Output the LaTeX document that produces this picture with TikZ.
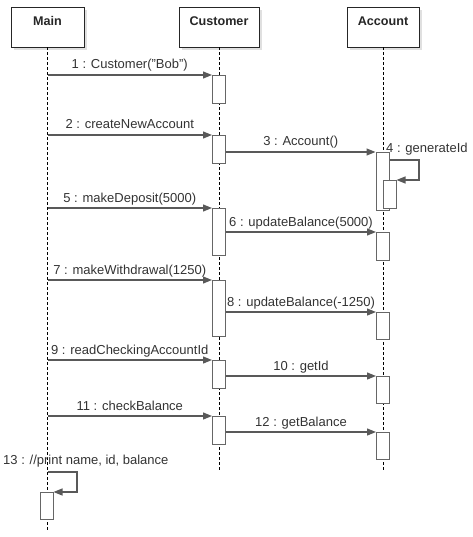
\documentclass[tikz,border=0pt]{standalone}
\usepackage{fontspec}
\setmainfont{Liberation Sans}
\usetikzlibrary{arrows.meta,shadows}
\begin{document}
\begin{tikzpicture}[x=1pt,y=-1pt,
  hdr/.style={draw=black!85, line width=0.9pt, fill=white, minimum height=40pt, inner sep=0,
              drop shadow={shadow xshift=3pt, shadow yshift=-3pt, fill=black!12, opacity=1}},
  hdrtxt/.style={font=\fontsize{12.6}{14}\selectfont\bfseries, text=black!85, inner sep=0},
  life/.style={draw=black, line width=0.8pt, dash pattern=on 3pt off 2pt},
  act/.style={draw=black!60, line width=1pt, fill=white, minimum width=13pt, inner sep=0, anchor=north},
  msg/.style={draw=black!65, line width=1.2pt, -{Triangle[length=9pt,width=7pt]}},
  lbl/.style={anchor=base, yshift=6pt, inner sep=0, text=black!80, font=\fontsize{13}{15}\selectfont}]
\useasboundingbox (0,0) rectangle (472,537);

% headers
\node[hdr, minimum width=73pt] (Hmain) at (47.5,27) {};
\node[hdr, minimum width=80pt] (Hcust) at (219,27) {};
\node[hdr, minimum width=72pt] (Hacc) at (383,27) {};
\node[hdrtxt] (tmain) at (47.5,21) {Main};
\node[hdrtxt] (tcust) at (219,21) {Customer};
\node[hdrtxt] (tacc) at (383,21) {Account};

% lifelines
\coordinate (eMain) at (47.5,532);
\coordinate (eCust) at (219,470);
\coordinate (eAcc) at (383,470);
\draw[life] (Hmain.south) -- (eMain);
\draw[life] (Hcust.south) -- (eCust);
\draw[life] (Hacc.south) -- (eAcc);

% activations
\node[act, minimum height=28pt] (c1) at (219,75) {};
\node[act, minimum height=28pt] (c2) at (219,135) {};
\node[act, minimum height=58pt] (a3) at (382.5,152) {};
\node[act, minimum height=28pt] (a4) at (389.5,180) {};
\node[act, minimum height=47pt] (c5) at (219,208) {};
\node[act, minimum height=28pt] (a6) at (383,232) {};
\node[act, minimum height=56pt] (c7) at (219,280) {};
\node[act, minimum height=27pt] (a8) at (383,312) {};
\node[act, minimum height=28pt] (c9) at (219,360) {};
\node[act, minimum height=27pt] (a10) at (383,376) {};
\node[act, minimum height=28pt] (c11) at (219,416) {};
\node[act, minimum height=27pt] (a12) at (383,432) {};
\node[act, minimum height=27pt] (m13) at (46.5,492) {};

% messages
\draw[msg] (Hmain.south |- c1.north) -- node[lbl] {1 : Customer("Bob")} (c1.north west);
\draw[msg] (Hmain.south |- c2.north) -- node[lbl] {2 : createNewAccount} (c2.north west);
\draw[msg] (c2.east |- a3.north) -- node[lbl] {3 : Account()} (a3.north west);
\coordinate (g4) at (419,160);
\draw[msg] (a3.east |- g4) -- (g4) |- (a4.north east);
\node[anchor=west, inner sep=0, text=black!80, font=\fontsize{13}{15}\selectfont] (l4) at (386,149) {4 : generateId};
\draw[msg] (Hmain.south |- c5.north) -- node[lbl] {5 : makeDeposit(5000)} (c5.north west);
\draw[msg] (c5.east |- a6.north) -- node[lbl] {6 : updateBalance(5000)} (a6.north west);
\draw[msg] (Hmain.south |- c7.north) -- node[lbl] {7 : makeWithdrawal(1250)} (c7.north west);
\draw[msg] (c7.east |- a8.north) -- node[lbl] {8 : updateBalance(-1250)} (a8.north west);
\draw[msg] (Hmain.south |- c9.north) -- node[lbl] {9 : readCheckingAccountId} (c9.north west);
\draw[msg] (c9.east |- a10.north) -- node[lbl] {10 : getId} (a10.north west);
\draw[msg] (Hmain.south |- c11.north) -- node[lbl] {11 : checkBalance} (c11.north west);
\draw[msg] (c11.east |- a12.north) -- node[lbl] {12 : getBalance} (a12.north west);
\coordinate (p13) at (77,472);
\draw[msg] (Hmain.south |- p13) -- (p13) |- (m13.north east);
\node[anchor=west, inner sep=0, text=black!80, font=\fontsize{13}{15}\selectfont] (l13) at (3,461) {13 : //print name, id, balance};
\end{tikzpicture}
\end{document}
